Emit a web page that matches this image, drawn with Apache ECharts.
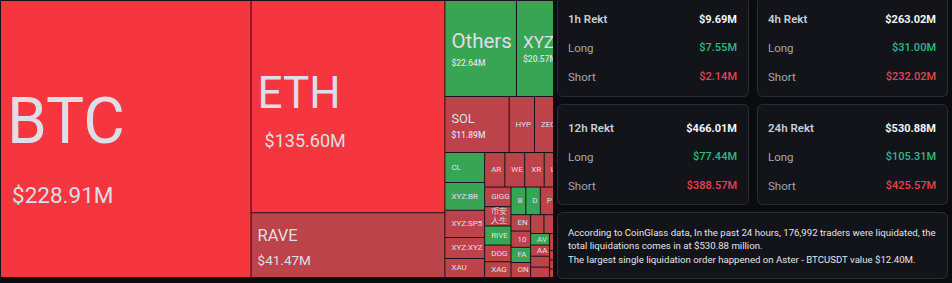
<!DOCTYPE html>
<html>
<head>
<meta charset="utf-8">
<script src="https://cdn.jsdelivr.net/npm/echarts@6.0.0/dist/echarts.min.js"></script>
<style>
html,body{margin:0;padding:0;background:#0b0c10;overflow:hidden;}
#chart{width:952px;height:283px;}
</style>
</head>
<body>
<div id="chart"></div>
<script>
// ================= DATA =================
// 24h liquidations by coin (millions USD)
const coins = ['BTC','ETH','RAVE','Others','XYZ:GOLD','SOL','HYPE','ZEC','ASTER','CL',
  'XYZ:BRENTOIL','XYZ:SP500','XYZ:XYZ100','XAU','ARIA','WET','XRP','LINK','BNB','GIGGLE',
  '币安人生','RIVER','DOGE','XAG','B2','DASH','PUMP','ADA','TRX','ENJ',
  '1000PEPE','FARTCOIN','ONDO','UNI','ENA','SUI','DYDX','AVAX','AAVE','LTC',
  'WLD','TAO','ARB','OP','APT','NEAR','PENGU','FIL','ETC','TIA'];
const liqValues = [228.91,135.60,41.47,22.64,20.57,11.89,4.70,4.50,4.20,3.93,
  3.62,3.58,2.76,2.49,2.30,2.26,2.22,2.15,2.10,1.70,
  1.68,1.66,1.45,1.37,1.35,1.32,1.30,1.25,1.20,1.06,
  1.05,0.98,0.97,0.83,0.80,0.78,0.75,0.72,0.70,0.68,
  0.65,0.62,0.60,0.58,0.55,0.52,0.50,0.45,0.42,0.40];
// which side dominates the liquidations of each coin
const dominance = ['strongLong','strongLong','long','short','short','long','long','long','long','short',
  'short','long','long','long','long','long','long','long','long','long',
  'long','short','long','long','short','short','long','long','long','long',
  'long','short','long','long','long','long','short','short','long','long',
  'long','long','long','long','long','long','long','long','long','long'];

// Rekt summary
const periods = ['1h','4h','12h','24h'];
const rektTotal = [9.69, 263.02, 466.01, 530.88];
const rektLong = [7.55, 31.00, 77.44, 105.31];
const rektShort = [2.14, 232.02, 388.57, 425.57];
const tradersLiquidated = 176992;
const largestExchange = 'Aster';
const largestSymbol = 'BTCUSDT';
const largestValue = 12.40;

// ================= STYLES =================
const toneColor = { strongLong: '#f5363f', long: '#bd434a', short: '#38a554' };
// [nameFont, nameLineH, valueFont, valueLineH, valueIndent]
const bigLabel = {
  'BTC':      [64, 112, 22.5, 36, 5],
  'ETH':      [44, 68, 18, 28, 7],
  'RAVE':     [16.5, 30, 13.5, 19, 0],
  'Others':   [20.5, 29, 8.5, 15, 0],
  'XYZ:GOLD': [17, 22, 8.5, 13, 0],
  'SOL':      [12.8, 21.6, 8.5, 11, 0]
};
const smallFont = 8, smallLine = 10;
const PANEL_X = 553;
const FONT = 'Roboto, "DejaVu Sans", sans-serif';
const money = v => '$' + v.toFixed(2) + 'M';

function buildItems(boxes) {
  return coins.map((name, i) => {
    const b = bigLabel[name];
    const box = boxes ? boxes[name] : null;
    const h = box ? box.height - 1 : 0;
    const cjk = /[\u4e00-\u9fff]/.test(name);
    let contentH, rich;
    if (b) {
      contentH = b[1] + b[3];
      rich = {
        n: { fontSize: b[0], lineHeight: b[1], fontFamily: FONT, color: '#dedee6' },
        v: { fontSize: b[2], lineHeight: b[3], fontFamily: FONT, color: '#dedee6',
             fontWeight: b[2] < 10 ? 500 : 400, padding: [0, 0, 0, b[4]] }
      };
    } else {
      const lh = cjk ? 9 : smallLine;
      contentH = cjk ? 18 : lh;
      rich = { n: { fontSize: smallFont, lineHeight: lh, fontFamily: FONT, color: '#e4dfe2' } };
    }
    const padTop = box ? Math.max(0, (h - contentH) / 2) : 0;
    // labels of cells that lie under the summary panel are not shown
    const hidden = box ? (box.x + 6 >= PANEL_X) : false;
    return {
      name: name,
      value: liqValues[i],
      itemStyle: { color: toneColor[dominance[i]] },
      label: {
        show: !hidden,
        padding: [padTop, 0, 0, 6],
        overflow: cjk ? 'break' : 'truncate',
        ellipsis: '',
        rich: rich
      }
    };
  });
}

function panelGraphics() {
  const els = [];
  els.push({ type: 'rect', z: 100, shape: { x: PANEL_X, y: 0, width: 952 - PANEL_X, height: 283 }, style: { fill: '#0b0c10' } });
  const cards = [
    { x: 557.5, y: -4.5, w: 191, h: 101 },
    { x: 757.5, y: -4.5, w: 190, h: 101 },
    { x: 557.5, y: 104.5, w: 191, h: 100 },
    { x: 757.5, y: 104.5, w: 190, h: 100 }
  ];
  cards.forEach((c, k) => {
    els.push({ type: 'rect', z: 100, shape: { x: c.x, y: c.y, width: c.w, height: c.h, r: 5 },
      style: { fill: '#121419', stroke: '#2a2d34', lineWidth: 1 } });
    const lx = c.x + 10.5, rx = c.x + c.w - 11.5;
    const rows = [
      [periods[k] + ' Rekt', money(rektTotal[k]), '#c9ccd3', '#f4f5f7', 600],
      ['Long', money(rektLong[k]), '#a3a7b0', '#2fba84', 400],
      ['Short', money(rektShort[k]), '#a3a7b0', '#e8424f', 400]
    ];
    rows.forEach((r, j) => {
      const y = c.y + 23.5 + j * 28.8;
      els.push({ type: 'text', z: 101, x: lx, y: y, style: { text: r[0], fill: r[2],
        fontSize: 11.5, fontWeight: r[4], fontFamily: FONT, align: 'left', verticalAlign: 'middle' } });
      els.push({ type: 'text', z: 101, x: rx, y: y, style: { text: r[1], fill: r[3],
        fontSize: 11, fontWeight: j === 0 ? 700 : 500, fontFamily: FONT, align: 'right', verticalAlign: 'middle' } });
    });
  });
  els.push({ type: 'rect', z: 100, shape: { x: 557.5, y: 212.5, width: 390, height: 66, r: 5 },
    style: { fill: '#121419', stroke: '#2a2d34', lineWidth: 1 } });
  const summary =
    'According to CoinGlass data, In the past 24 hours, ' + tradersLiquidated.toLocaleString('en-US') +
    ' traders were liquidated, the\ntotal liquidations comes in at $' + rektTotal[3].toFixed(2) + ' million.\n' +
    'The largest single liquidation order happened on ' + largestExchange + ' - ' + largestSymbol +
    ' value $' + largestValue.toFixed(2) + 'M.';
  els.push({ type: 'text', z: 101, x: 568, y: 225.5, style: { text: summary, fill: '#e2e4e8',
    fontSize: 9.65, lineHeight: 13.5, fontFamily: FONT, align: 'left', verticalAlign: 'top' } });
  return els;
}

function buildOption(boxes) {
  return {
    backgroundColor: '#0b0c10',
    animation: false,
    series: [{
      type: 'treemap',
      left: 0, top: 0, width: 582, height: 278,
      roam: false, nodeClick: false,
      breadcrumb: { show: false },
      emphasis: { disabled: true },
      itemStyle: { borderWidth: 0.5, borderColor: '#1a1214', gapWidth: 0 },
      label: {
        show: true, position: 'insideTopLeft', distance: 0,
        fontFamily: FONT, color: '#dedee6',
        formatter: p => bigLabel[p.name]
          ? '{n|' + p.name + '}\n{v|' + money(p.value) + '}'
          : '{n|' + p.name + '}'
      },
      data: buildItems(boxes)
    }],
    graphic: { elements: panelGraphics() }
  };
}

const chart = echarts.init(document.getElementById('chart'), null, { renderer: 'svg' });
chart.setOption(buildOption(null));
const boxes = {};
try {
  const root = chart.getModel().getSeriesByIndex(0).getData().tree.root;
  const walk = (node, ox, oy) => {
    (node.children || []).forEach(n => {
      const l = n.getLayout();
      if (l) boxes[n.name] = { x: ox + l.x, y: oy + l.y, width: l.width, height: l.height };
    });
  };
  const rl = root.getLayout() || { x: 0, y: 0 };
  walk(root, rl.x || 0, rl.y || 0);
} catch (e) {}
chart.setOption(buildOption(boxes), true);
</script>
</body>
</html>
